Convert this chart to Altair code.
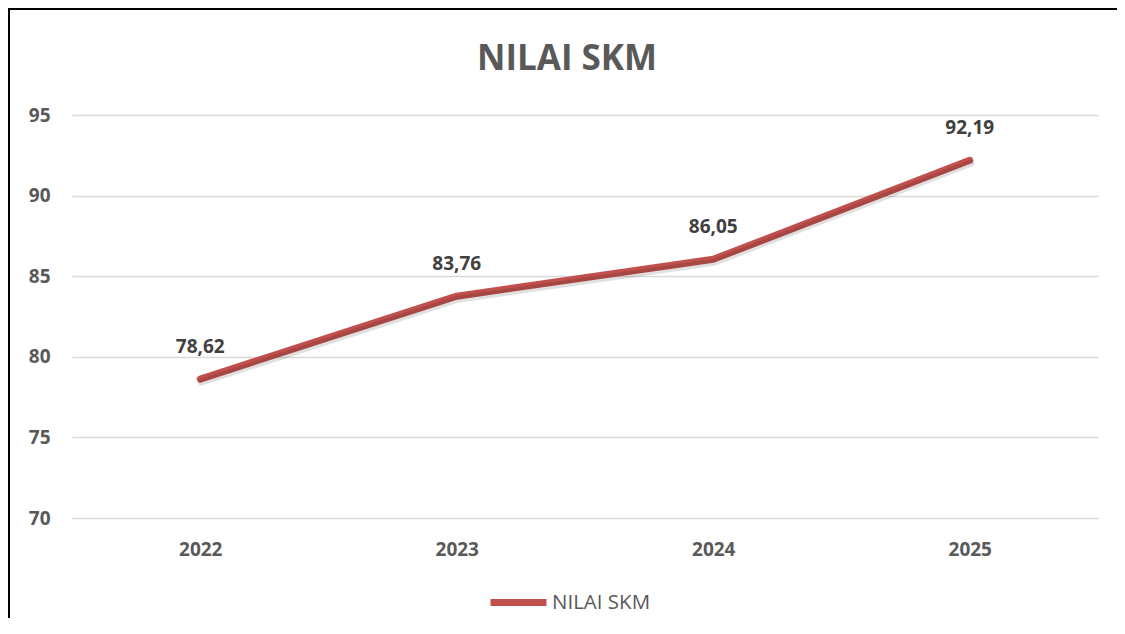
import altair as alt
import pandas as pd

years = ["2022", "2023", "2024", "2025"]
values = [78.62, 83.76, 86.05, 92.19]
series_name = "NILAI SKM"
chart_title = "NILAI SKM"
y_ticks = [70, 75, 80, 85, 90, 95]

df = pd.DataFrame({"year": years, "value": values, "series": [series_name] * len(years)})

FONT = "Open Sans"
LINE_COLOR = "#C0504D"

x_scale = alt.Scale(type="point", padding=0.5)
y_scale = alt.Scale(domain=[70, 95], nice=False, zero=False)

x_axis = alt.Axis(labelAngle=0, labelAlign="center", labelBaseline="top", domain=False,
                  ticks=False, grid=False, labelPadding=22,
                  labelFont=FONT, labelFontSize=19, labelFontWeight="bold",
                  labelColor="#595959")
y_axis = alt.Axis(values=y_ticks, domain=False, ticks=False, labelPadding=22,
                  labelFont=FONT, labelFontSize=19, labelFontWeight="bold",
                  labelColor="#595959", gridColor="#D9D9D9", gridWidth=1.5)

x_enc = alt.X("year:O", sort=years, title=None, scale=x_scale, axis=x_axis)
y_enc = alt.Y("value:Q", title=None, scale=y_scale, axis=y_axis)

base = alt.Chart(df)

line = base.mark_line(strokeWidth=7, strokeCap="round", strokeJoin="round").encode(
    x=x_enc, y=y_enc,
    color=alt.Color("series:N", title=None,
                    scale=alt.Scale(domain=[series_name], range=[LINE_COLOR]),
                    legend=alt.Legend(orient="none", legendX=415, legendY=456,
                                      symbolType="stroke", symbolSize=3136,
                                      symbolStrokeWidth=7, labelFont=FONT,
                                      labelFontSize=20.5, labelColor="#595959",
                                      labelOffset=2, padding=0)))

shadow = base.mark_line(strokeWidth=7, color="#000000", opacity=0.12, strokeCap="round",
                        strokeJoin="round", xOffset=1, yOffset=3).encode(
    x=x_enc, y=y_enc)

labels = base.transform_calculate(
    lab="replace(format(datum.value, '.2f'), '.', ',')"
).mark_text(font=FONT, fontSize=19, fontWeight="bold", color="#404040",
            baseline="alphabetic", dy=-26).encode(
    x=x_enc, y=y_enc, text="lab:N")

title_layer = alt.Chart(alt.Data(values=[{"t": chart_title}])).mark_text(
    font=FONT, fontSize=35, fontWeight="bold", color="#595959",
    align="center", baseline="alphabetic").encode(
    x=alt.value(495), y=alt.value(-45), text="t:N")

border = alt.Chart(alt.Data(values=[{"a": 1}])).mark_rect(
    fill=None, stroke="#000000", strokeWidth=2).encode(
    x=alt.value(-63), x2=alt.value(1200), y=alt.value(-106), y2=alt.value(700))

chart = alt.layer(line, border, shadow, labels, title_layer).properties(
    width=1026, height=403,
    background="white",
    autosize=alt.AutoSizeParams(type="none"),
    padding={"left": 64, "top": 107, "right": 19, "bottom": 100},
).configure_view(stroke="transparent", strokeWidth=0)

chart.save("out.html", embed_options={"renderer": "svg", "actions": False})
